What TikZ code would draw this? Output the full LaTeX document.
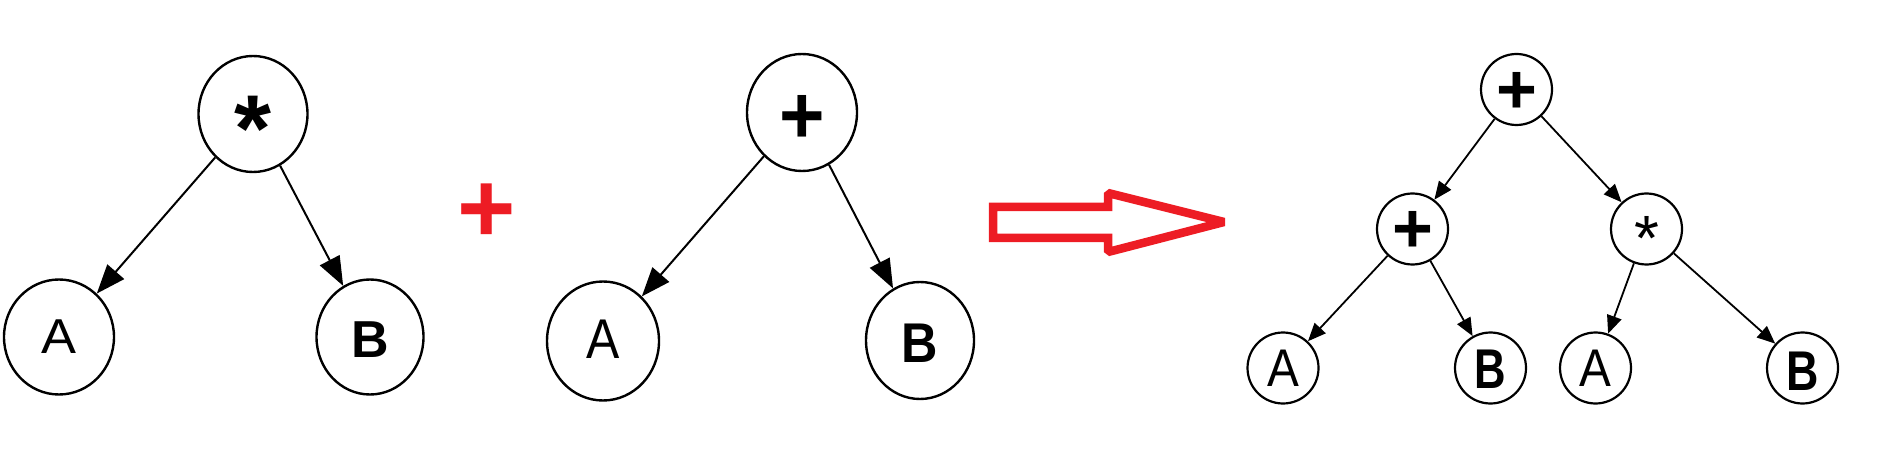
\documentclass[tikz,border=0pt]{standalone}
\usepackage{fontspec}
\setmainfont{Liberation Sans}
\usetikzlibrary{shapes.geometric,arrows.meta}
\definecolor{pred}{RGB}{237,28,36}
\newcommand\glyphbox[5]{\raisebox{-#1pt}[0pt][0pt]{\scalebox{#2}[#3]{\fontsize{#4}{#4}\selectfont #5}}}
\tikzset{
  bignode/.style={ellipse, draw, line width=2.4pt, inner sep=0pt},
  smallnode/.style={ellipse, draw, line width=2.2pt, inner sep=0pt, minimum width=71pt, minimum height=71pt},
  bigarrow/.style={line width=2pt, -{Triangle[length=29pt,width=22pt]}},
  smallarrow/.style={line width=1.8pt, -{Triangle[length=18pt,width=15pt]}},
}
\begin{document}
\begin{tikzpicture}[x=1pt,y=-1pt]
\useasboundingbox (0,0) rectangle (1878,454);
% left tree
\node[bignode, minimum width=109pt, minimum height=116pt] (m1) at (253,114) {\glyphbox{47.5}{1}{1}{95pt}{\bfseries *}};
\node[bignode, minimum width=110pt, minimum height=115pt] (a1) at (59,337) {\glyphbox{16}{1.07}{1}{49pt}{A}};
\node[bignode, minimum width=107pt, minimum height=115pt] (b1) at (370,337) {\glyphbox{20}{1}{1}{52pt}{\bfseries B}};
\draw[bigarrow] (m1) -- (a1);
\draw[bigarrow] (m1) -- (b1);
% red plus
\node[text=pred, inner sep=0pt] (plus) at (487,207.5) {\glyphbox{35.5}{1}{1}{100pt}{\bfseries +}};
% middle tree
\node[bignode, minimum width=110pt, minimum height=117pt] (p2) at (802,112.5) {\glyphbox{31.5}{1}{1.05}{78pt}{\bfseries +}};
\node[bignode, minimum width=112pt, minimum height=119pt] (a2) at (603,341) {\glyphbox{17}{0.89}{1}{56pt}{A}};
\node[bignode, minimum width=108pt, minimum height=117pt] (b2) at (920,340.5) {\glyphbox{21.5}{0.9}{1}{56pt}{\bfseries B}};
\draw[bigarrow] (p2) -- (a2);
\draw[bigarrow] (p2) -- (b2);
% red block arrow
\draw[pred, line width=8.5pt, line join=miter, miter limit=1.5]
  (993,207) -- (1108,207) -- (1108,193) -- (1224,222) -- (1108,252) -- (1108,238) -- (993,238) -- cycle;
% right tree
\node[smallnode] (r) at (1516.5,89.5) {\glyphbox{24.5}{1}{1}{70pt}{\bfseries +}};
\node[smallnode] (p3) at (1412.5,229) {\glyphbox{24}{1}{1}{70pt}{\bfseries +}};
\node[smallnode] (m3) at (1646.5,229) {\glyphbox{32}{1}{1}{64pt}{*}};
\node[smallnode] (a3) at (1283,368) {\glyphbox{18}{0.9}{1}{53pt}{A}};
\node[smallnode] (b3) at (1490.5,368) {\glyphbox{20}{0.78}{1}{56pt}{\bfseries B}};
\node[smallnode] (a4) at (1595.5,368) {\glyphbox{18}{0.9}{1}{53pt}{A}};
\node[smallnode] (b4) at (1802.5,368) {\glyphbox{22}{0.8}{1}{56pt}{\bfseries B}};
\draw[smallarrow] (r) -- (p3);
\draw[smallarrow] (r) -- (m3);
\draw[smallarrow] (p3) -- (a3);
\draw[smallarrow] (p3) -- (b3);
\draw[smallarrow] (m3) -- (a4);
\draw[smallarrow] (m3) -- (b4);
\end{tikzpicture}
\end{document}
